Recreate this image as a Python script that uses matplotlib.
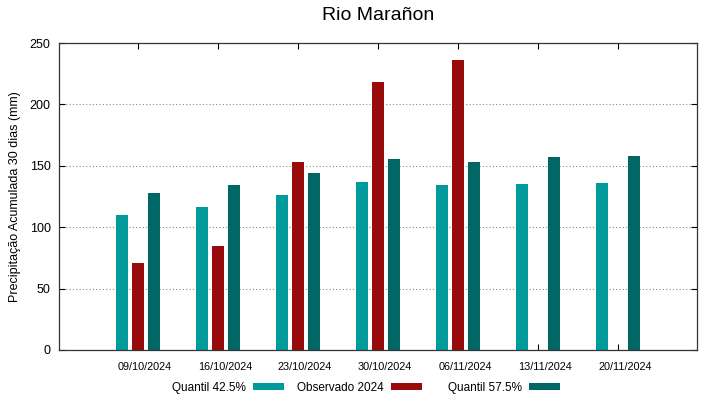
import matplotlib
matplotlib.use("Agg")
import matplotlib.pyplot as plt
import matplotlib.transforms as mtransforms
import numpy as np

plt.rcParams['font.family'] = ['Liberation Sans', 'DejaVu Sans']

datas = ["09/10/2024", "16/10/2024", "23/10/2024", "30/10/2024",
         "06/11/2024", "13/11/2024", "20/11/2024"]
quantil_425 = [110, 116.7, 126.5, 136.8, 134, 135, 136]
observado = [70.6, 85, 153, 218, 236, np.nan, np.nan]
quantil_575 = [127.6, 134, 144, 155.5, 153, 157, 157.7]

cor_q1 = "#009a9a"
cor_obs = "#990b0b"
cor_q2 = "#006666"

fig = plt.figure(figsize=(7.19, 3.99), dpi=100)
ax = fig.add_axes([59/719, 1 - 350/399, (697 - 59)/719, (350 - 43)/399])

x = np.arange(len(datas))
w = 0.16
b1 = ax.bar(x - 0.2, quantil_425, w, color=cor_q1, label="Quantil 42.5%")
b2 = ax.bar(x, observado, w, color=cor_obs, label="Observado 2024")
b3 = ax.bar(x + 0.2, quantil_575, w, color=cor_q2, label="Quantil 57.5%")

ax.set_xlim(-0.9875, 6.9875)
ax.set_ylim(0, 250)
ax.set_yticks([0, 50, 100, 150, 200, 250])
ax.set_xticks(x)
ax.set_xticklabels(datas, fontsize=7.8)
ax.tick_params(axis='y', labelsize=9, direction='in', length=4, pad=6,
               right=True, width=0.8)
ax.tick_params(axis='x', direction='in', length=4, pad=9, top=True, width=0.8)

# rotulos levemente deslocados pra direita como no original
desloc = mtransforms.ScaledTranslation(7/100, 0, fig.dpi_scale_trans)
for lab in ax.get_xticklabels():
    lab.set_transform(lab.get_transform() + desloc)

ax.yaxis.grid(True, linestyle=(0, (1, 2)), color="#888888", linewidth=0.8)
ax.set_axisbelow(True)
for s in ax.spines.values():
    s.set_linewidth(0.9)
    s.set_color("#333333")

ax.set_ylabel("Precipitação Acumulada 30 dias (mm)", fontsize=9, labelpad=6)
fig.text(378/719, 1 - 16/399, "Rio Marañon", fontsize=14, ha='center', va='center')

# legenda estilo gnuplot: colunas de largura igual, texto antes da amostra
fim_amostra = [284, 422, 560]
for barra, xr in zip([b1, b2, b3], fim_amostra):
    leg = fig.legend(handles=[barra], loc='center right',
                     bbox_to_anchor=(xr/719, 1 - 388/399),
                     markerfirst=False, frameon=False, fontsize=8.5,
                     handlelength=2.6, handleheight=0.5, handletextpad=0.6,
                     borderpad=0, borderaxespad=0)

fig.savefig("out.png", dpi=100)
